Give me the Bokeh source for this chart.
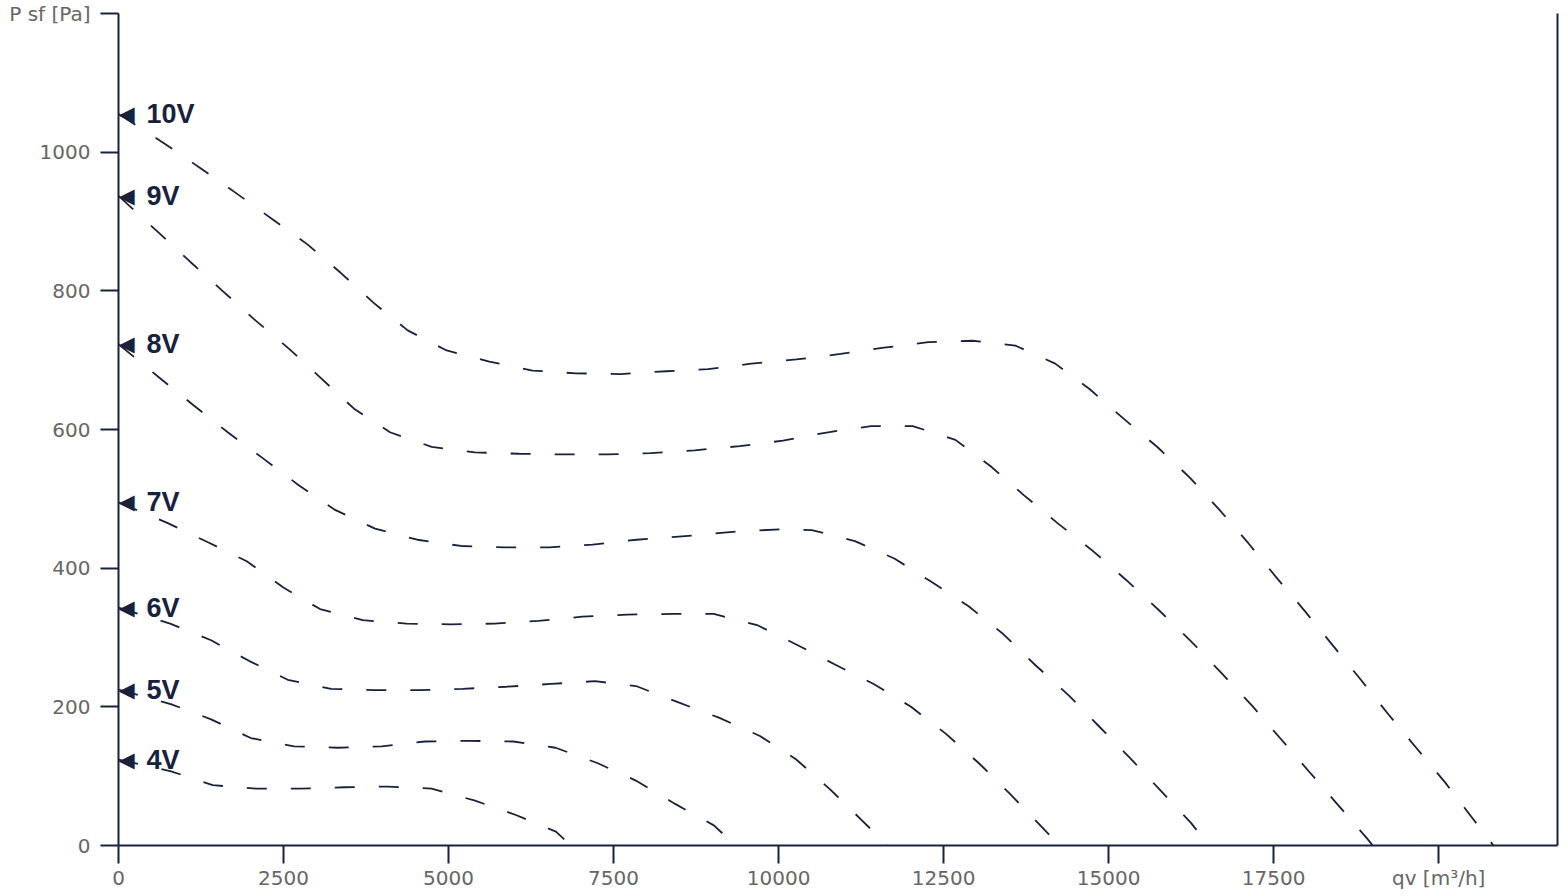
from bokeh.plotting import figure
from bokeh.models import Range1d, FixedTicker, LinearAxis, ColumnDataSource
from bokeh.core.properties import value
from bokeh.embed import file_html
from bokeh.resources import INLINE

# ---------------- data ----------------
x_ticks = [0, 2500, 5000, 7500, 10000, 12500, 15000, 17500, 20000]
y_ticks = [0, 200, 400, 600, 800, 1000, 1200]
x_label = "qv [m³/h]"
y_label = "P sf [Pa]"

labels = ["10V", "9V", "8V", "7V", "6V", "5V", "4V"]

q_10v = [0, 671, 1226, 1766, 2321, 2862, 3366, 3861, 4381, 4971, 5617, 6273, 6929, 7606, 8300,
         8931, 9587, 10268, 10940, 11596, 12268, 12933, 13588, 14191, 14715, 15222, 15746, 16226,
         16680, 17117, 17537, 17973, 18392, 18821, 19240, 19659, 20097, 20507, 20830]
p_10v = [1055, 1014, 978, 942, 904, 867, 826, 783, 743, 714, 698, 685, 681, 680, 684,
         687, 695, 701, 709, 718, 726, 728, 721, 695, 658, 616, 574, 531,
         484, 436, 387, 338, 289, 239, 189, 141, 91, 40, 0]

q_9v = [0, 596, 1085, 1575, 2079, 2589, 3079, 3568, 4113, 4744, 5400, 6072, 6738, 7404, 8058,
        8730, 9411, 10066, 10748, 11403, 12032, 12679, 13213, 13719, 14225, 14759, 15265, 15754,
        16234, 16707, 17169, 17606, 18042, 18480, 18908, 19000]
p_9v = [937, 885, 842, 800, 757, 716, 673, 630, 596, 575, 567, 565, 564, 564, 566,
        570, 576, 584, 596, 605, 605, 585, 547, 505, 465, 425, 383, 340,
        296, 249, 202, 154, 106, 58, 11, 0]

q_8v = [0, 616, 1136, 1655, 2195, 2725, 3281, 3886, 4527, 5188, 5855, 6526, 7182, 7848, 8713,
        9368, 10041, 10504, 11158, 11753, 12338, 12879, 13403, 13892, 14391, 14853, 15326, 15789,
        16244, 16520]
p_8v = [723, 675, 635, 596, 558, 520, 484, 457, 441, 432, 430, 430, 434, 441, 447,
        453, 456, 455, 439, 414, 379, 345, 305, 260, 217, 172, 126, 79,
        33, 0]

q_7v = [0, 747, 1363, 1943, 2498, 3053, 3700, 4366, 5032, 5693, 6359, 7025, 7707, 8407, 9019,
        9673, 10268, 10854, 11441, 12006, 12536, 13031, 13510, 13975, 14260]
p_7v = [495, 465, 437, 410, 372, 341, 325, 320, 319, 320, 324, 330, 333, 334, 334,
        318, 290, 261, 233, 200, 161, 119, 74, 28, 0]

q_6v = [0, 782, 1403, 1983, 2564, 3220, 3886, 4552, 5213, 5880, 6551, 7217, 7840, 8494, 9105,
        9717, 10268, 10780, 11254, 11650]
p_6v = [343, 320, 296, 266, 239, 226, 224, 224, 226, 229, 233, 237, 230, 206, 184,
        158, 124, 81, 37, 0]

q_5v = [0, 792, 1403, 2004, 2660, 3321, 3987, 4643, 5309, 5981, 6622, 7253, 7830, 8433, 9019, 9350]
p_5v = [225, 204, 182, 155, 143, 141, 143, 150, 151, 150, 141, 119, 94, 60, 29, 0]

q_4v = [0, 797, 1428, 2084, 2751, 3422, 4078, 4744, 5390, 6021, 6627, 6850]
p_4v = [124, 107, 87, 82, 82, 84, 85, 82, 65, 44, 20, 0]

curves_q = [q_10v, q_9v, q_8v, q_7v, q_6v, q_5v, q_4v]
curves_p = [p_10v, p_9v, p_8v, p_7v, p_6v, p_5v, p_4v]

# ---------------- style ----------------
NAVY = "#18223d"
GRAY = "#666666"
TICK_FONT = "DejaVu Sans"

p = figure(width=1560, height=892,
           x_range=Range1d(0, 21800), y_range=Range1d(0, 1200),
           output_backend="svg", toolbar_location=None,
           min_border_left=118, min_border_right=3,
           min_border_top=13, min_border_bottom=47)
p.grid.visible = False
p.outline_line_color = None
p.background_fill_color = "white"
p.border_fill_color = "white"

for ax in (p.xaxis[0], p.yaxis[0]):
    ax.axis_line_color = NAVY
    ax.axis_line_width = 2
    ax.major_tick_line_color = NAVY
    ax.major_tick_line_width = 2
    ax.major_tick_out = 18
    ax.major_tick_in = 0
    ax.minor_tick_line_color = None
    ax.major_label_text_color = GRAY
    ax.major_label_text_font = TICK_FONT
    ax.major_label_text_font_size = "20px"

p.xaxis[0].ticker = FixedTicker(ticks=x_ticks)
p.xaxis[0].major_label_overrides = {x_ticks[-1]: x_label}
p.xaxis[0].major_label_standoff = 2

p.yaxis[0].ticker = FixedTicker(ticks=y_ticks)
p.yaxis[0].major_label_overrides = {y_ticks[-1]: y_label}
p.yaxis[0].major_label_standoff = 10

# right border line
right_ax = LinearAxis(ticker=FixedTicker(ticks=[]), axis_line_color=NAVY, axis_line_width=2,
                      major_tick_out=0, major_tick_in=0, minor_tick_out=0, minor_tick_in=0,
                      major_label_standoff=0, major_label_text_font_size="0px")
p.add_layout(right_ax, "right")

for lab, qs, ps in zip(labels, curves_q, curves_p):
    p.line(qs, ps, line_color=NAVY, line_width=1.8, line_dash="20 24")

start_src = ColumnDataSource(dict(x=[q[0] for q in curves_q], y=[pp[0] for pp in curves_p],
                                  lab=labels, tri=["◀"] * len(labels)))
p.text(x="x", y="y", text="tri", source=start_src, text_align="left", text_baseline="middle",
       text_color=NAVY, text_font=value("DejaVu Sans"), text_font_size="21px")
p.text(x="x", y="y", text="lab", source=start_src, text_align="left", text_baseline="middle",
       x_offset=28, text_color=NAVY, text_font=value("Liberation Sans"), text_font_style="bold",
       text_font_size="27px")

open("out.html", "w").write(file_html(p, INLINE))
